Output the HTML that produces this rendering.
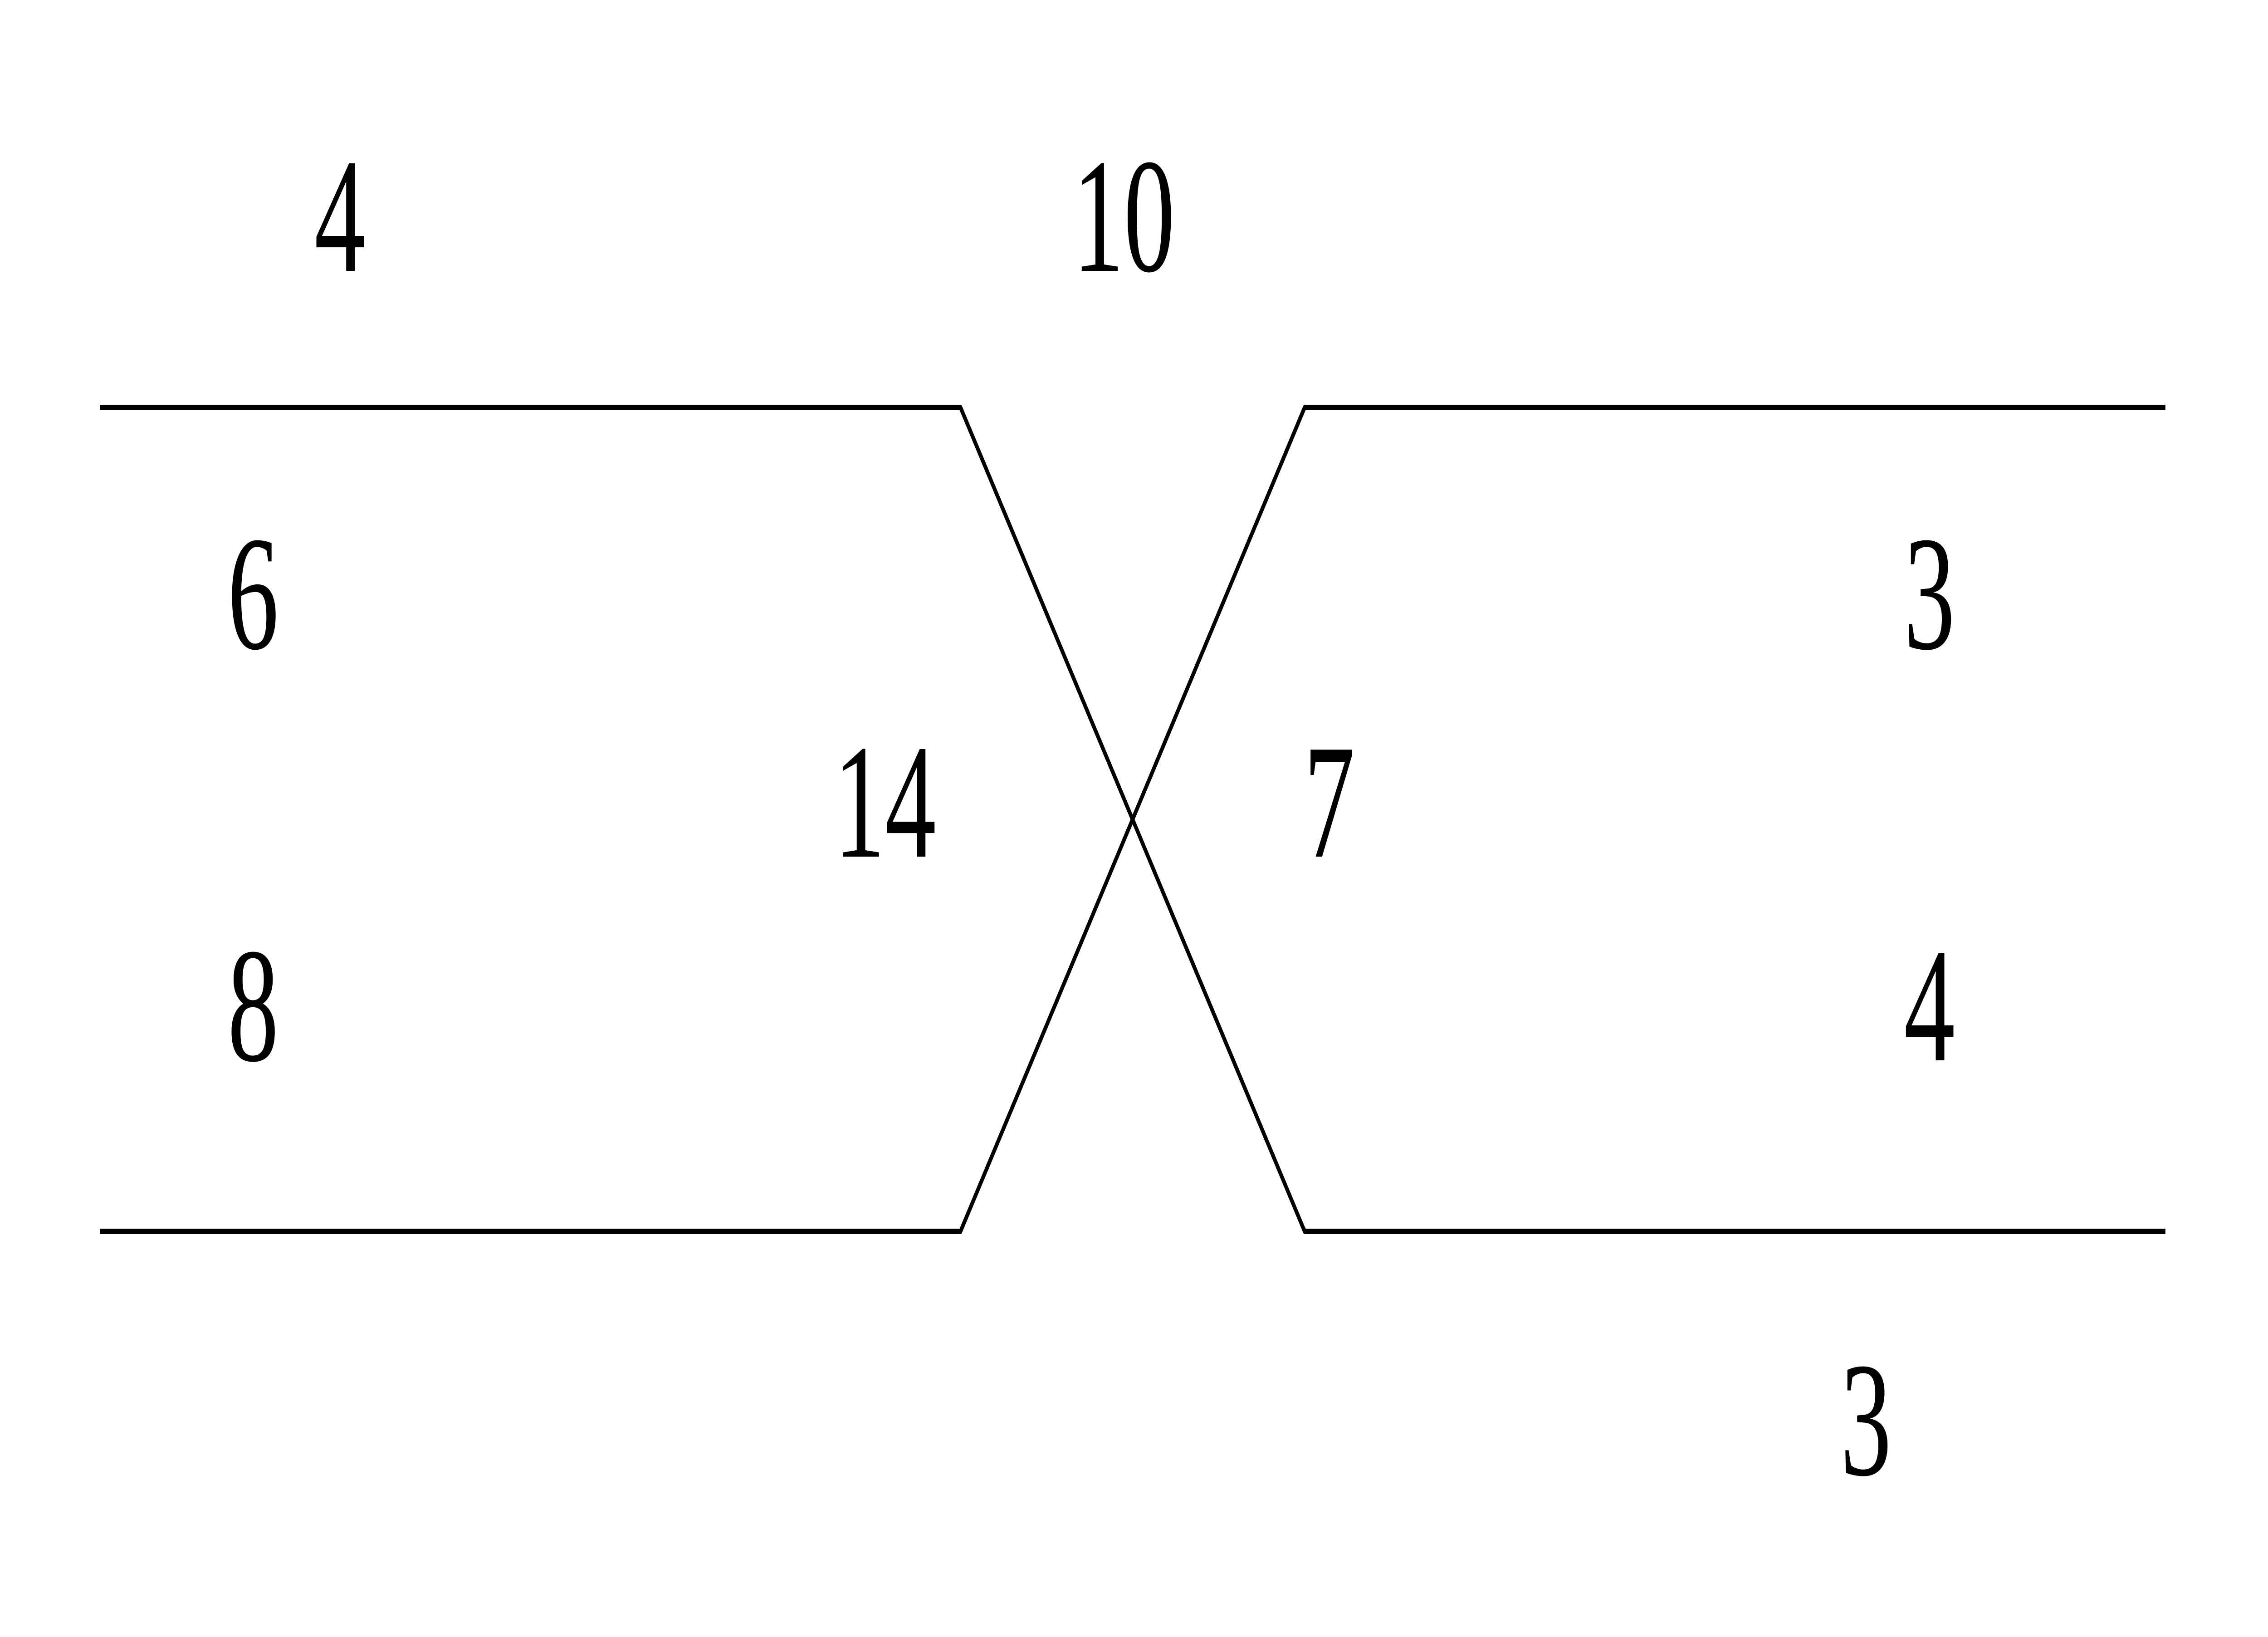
<!DOCTYPE html>
<html><head><meta charset="utf-8"><style>html,body{margin:0;padding:0;background:#fff;width:100%;height:100%;overflow:hidden}svg{display:block;width:100vw;height:100vh}text{font-family:"Liberation Serif","Times New Roman",Times,serif;font-size:360px}</style></head>
<body>
<svg viewBox="0 0 8000 3608" preserveAspectRatio="none" xmlns="http://www.w3.org/2000/svg">
<rect width="8000" height="3608" fill="#fff"/>
<g fill="none" stroke="#000" stroke-width="12" stroke-linejoin="round">
<polyline points="352,898 3388,898 4602,2714 7638,2714"/>
<polyline points="352,2714 3388,2714 4602,898 7638,898"/>
</g>
<g text-anchor="middle" fill="#000" font-family="Liberation Serif, Times New Roman, serif">
<text x="1199" y="597">4</text>
<text x="3964" y="597">10</text>
<text x="893" y="1429">6</text>
<text x="3122" y="1888">14</text>
<text x="4689" y="1888">7</text>
<text x="6806" y="1429">3</text>
<text x="893" y="2337">8</text>
<text x="6806" y="2337">4</text>
<text x="6582" y="3250">3</text>
</g>
</svg>
</body></html>
